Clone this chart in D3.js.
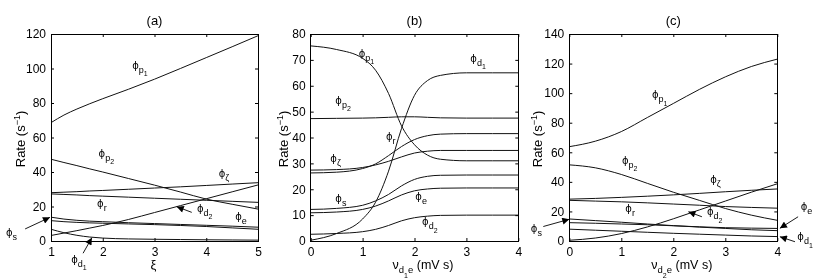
<!DOCTYPE html>
<html>
<head>
<meta charset="utf-8">
<script src="https://cdn.jsdelivr.net/npm/d3@7"></script>
<style>
body { margin: 0; background: #fff; }
svg { filter: grayscale(100%); }
svg text { font-family: "Liberation Sans", Arial, Helvetica, sans-serif; fill: #000; }
</style>
</head>
<body>
<script>
// ---- panel (a): rates vs xi ----
var xiA = [1, 1.25, 1.5, 1.75, 2, 2.5, 3, 3.5, 4, 4.5, 5];
var phiP1A = [68.6, 73, 76.5, 79.6, 82.5, 88, 93.8, 100, 106.3, 112.6, 119];
var phiP2A = [47.4, 45.5, 43.7, 41.8, 40, 36.2, 32.4, 28.4, 24.3, 21.3, 18.5];
var phiZA  = [28, 28.3, 28.6, 29, 29.3, 30, 30.7, 31.4, 32.2, 33, 33.8];
var phiRA  = [27.3, 27, 26.7, 26.3, 26, 25.4, 24.8, 24.2, 23.6, 23, 22.4];
var phiD2A = [3.2, 4.6, 6, 7.5, 9, 12.5, 16.5, 20.5, 24.5, 28.5, 32.5];
var phiSA  = [13.8, 12.7, 12, 11.5, 11.2, 10.6, 10.1, 9.6, 9.1, 8.6, 8];
var phiEA  = [11.8, 11.2, 10.8, 10.5, 10.3, 9.9, 9.5, 9, 8.4, 7.6, 6.8];
var phiD1A = [6.8, 4.8, 3.3, 2.3, 1.7, 1.2, 1, 0.85, 0.7, 0.6, 0.5];

// ---- panel (b): rates vs nu_d1e ----
var nuB = [0, 0.5, 1, 1.25, 1.5, 1.75, 2, 2.25, 2.5, 3, 3.5, 4];
var phiP1B = [75.4, 74, 70.6, 66, 57, 44.5, 37.2, 33.2, 31.6, 31, 31, 31];
var phiD1B = [0.3, 2.9, 8.5, 15, 27, 43.5, 56.3, 62, 64, 65, 65, 65];
var phiP2B = [47.3, 47.4, 47.5, 47.6, 47.8, 48, 48, 47.8, 47.6, 47.5, 47.5, 47.5];
var phiRB  = [26.3, 26.6, 28, 29.8, 33, 36.5, 39.2, 40.7, 41.3, 41.5, 41.5, 41.5];
var phiZB  = [27.4, 27.6, 28.4, 29.4, 30.8, 32.5, 34, 34.7, 35, 35, 35, 35];
var phiSB  = [12.2, 12.6, 13.8, 15.5, 18, 21.3, 23.8, 25, 25.4, 25.5, 25.5, 25.5];
var phiEB  = [10.9, 11.2, 12.2, 13.5, 15.5, 17.8, 19.4, 20.1, 20.4, 20.5, 20.5, 20.5];
var phiD2B = [2.6, 2.9, 3.6, 4.5, 6, 7.8, 9, 9.6, 9.9, 10, 10, 10];

// ---- panel (c): rates vs nu_d2e ----
var nuC = [0, 0.5, 1, 1.5, 2, 2.5, 3, 3.5, 4];
var phiP1C = [63.8, 67.5, 74, 83.5, 93, 102.5, 111, 118, 123];
var phiP2C = [51.5, 49.5, 45, 39, 33, 27.5, 22, 17.5, 14];
var phiZC  = [28.3, 28.8, 29.5, 30.3, 31.2, 32.2, 33.3, 34.3, 35.2];
var phiRC  = [27.5, 27, 26.5, 25.8, 25, 24.2, 23.3, 22.7, 22.2];
var phiD2C = [0.5, 2, 5, 9.5, 15, 21, 27, 33, 38.7];
var phiSC  = [14.9, 13.8, 12.7, 11.5, 10.4, 9.4, 8.5, 7.6, 7];
var phiEC  = [12.4, 12, 11.5, 11, 10.3, 9.6, 9, 8.7, 8.5];
var phiD1C = [8, 7.3, 6.6, 5.9, 5.2, 4.6, 4, 3.4, 3];

// tick labels
var xTicksA = [1, 2, 3, 4, 5];
var xTicksBC = [0, 1, 2, 3, 4];
var yTicksA = [0, 20, 40, 60, 80, 100, 120];
var yTicksB = [0, 10, 20, 30, 40, 50, 60, 70, 80];
var yTicksC = [0, 20, 40, 60, 80, 100, 120, 140];

// curve labels: [sub, subsub, x, y] in data units
var labelsA = [['p', '1', 2.57, 100], ['p', '2', 1.92, 48.8], ['ζ', '', 4.24, 37.2], ['r', '', 1.89, 19.8],
               ['d', '2', 3.82, 17.1], ['e', '', 4.56, 12.1], ['s', '', 0.13, 2.9], ['d', '1', 1.39, -12.6]];
var labelsB = [['p', '1', 0.925, 71.2], ['d', '1', 3.075, 69.2], ['p', '2', 0.474, 53.1], ['r', '', 1.451, 38.9],
               ['ζ', '', 0.378, 30.5], ['s', '', 0.474, 15.1], ['e', '', 2.015, 15.7], ['d', '2', 2.145, 6.0]];
var labelsC = [['p', '1', 1.59, 96.4], ['p', '2', 1.013, 52.4], ['ζ', '', 2.71, 38.9], ['r', '', 1.077, 19.7],
               ['d', '2', 2.648, 17.4], ['e', '', 4.45, 20.8], ['d', '1', 4.385, 0.5], ['s', '', -0.74, 6.4]];

// arrows: [x0, y0, x1, y1] tail -> head, data units
var arrowsA = [[0.5, 7, 0.98, 13.7], [1.62, -7.1, 1.79, 1.9], [3.72, 16.6, 3.43, 19.9]];
var arrowsC = [[-0.5, 9.8, 0, 14.7], [2.55, 16.4, 2.29, 19.8], [4.4, 16.4, 4.05, 8.6], [4.34, -0.5, 4.05, 2.9]];

var svg = d3.select('body').append('svg').attr('width', 824).attr('height', 279);

var defs = svg.append('defs');
defs.append('marker').attr('id', 'head')
    .attr('viewBox', '0 0 10 10').attr('refX', 10).attr('refY', 5)
    .attr('markerWidth', 8).attr('markerHeight', 7).attr('markerUnits', 'userSpaceOnUse')
    .attr('orient', 'auto')
    .append('path').attr('d', 'M0,0L10,5L0,10z').attr('fill', '#000');

function phiLabel(g, x, y, sub, subsub) {
    var t = g.append('text').attr('x', x).attr('y', y).style('font-size', '11px');
    t.append('tspan').style('font-family', '"DejaVu Sans", sans-serif').style('font-size', '10px').text('ϕ');
    t.append('tspan').attr('dy', 4).style('font-size', '9px').text(sub);
    if (subsub) t.append('tspan').attr('dy', 3.5).style('font-size', '7px').text(subsub);
}

function drawPanel(p) {
    var x = d3.scaleLinear().domain(p.xDomain).range([p.left, p.right]);
    var y = d3.scaleLinear().domain(p.yDomain).range([241, 34]);
    var g = svg.append('g');
    var fmt = d3.format('d');

    // curves
    var line = d3.line().x(function(d) { return x(d[0]); }).y(function(d) { return y(d[1]); }).curve(d3.curveMonotoneX);
    p.series.forEach(function(vals) {
        g.append('path').datum(p.xs.map(function(v, i) { return [v, vals[i]]; }))
            .attr('d', line).attr('fill', 'none').attr('stroke', '#111').attr('stroke-width', 1);
    });

    // axes (box with inward ticks on all sides)
    var ax = [
        d3.axisBottom(x).tickValues(p.xTicks).tickSizeInner(-3).tickSizeOuter(0).tickPadding(6).tickFormat(fmt),
        d3.axisTop(x).tickValues(p.xTicks).tickSizeInner(-3).tickSizeOuter(0).tickFormat(''),
        d3.axisLeft(y).tickValues(p.yTicks).tickSizeInner(-3).tickSizeOuter(0).tickPadding(5).tickFormat(fmt),
        d3.axisRight(y).tickValues(p.yTicks).tickSizeInner(-3).tickSizeOuter(0).tickFormat('')
    ];
    var tr = ['translate(0,241)', 'translate(0,34)', 'translate(' + p.left + ',0)', 'translate(' + p.right + ',0)'];
    ax.forEach(function(a, i) {
        var ga = g.append('g').attr('transform', tr[i]).call(a);
        ga.select('.domain').remove();
        ga.selectAll('line').attr('stroke', '#000');
        ga.selectAll('text').style('font-size', '12px').style('font-family', '"Liberation Sans", Arial, sans-serif');
    });
    g.append('rect').attr('x', p.left).attr('y', 34).attr('width', p.right - p.left).attr('height', 207)
        .attr('fill', 'none').attr('stroke', '#000').attr('stroke-width', 1).attr('shape-rendering', 'crispEdges');

    // title
    g.append('text').attr('x', (p.left + p.right) / 2).attr('y', 25).attr('text-anchor', 'middle')
        .style('font-size', '13px').text(p.title);

    // y label
    var yl = g.append('text').attr('transform', 'translate(' + (p.left - p.yLabelGap) + ',139) rotate(-90)')
        .attr('text-anchor', 'middle').style('font-size', '13px');
    yl.append('tspan').text('Rate (s');
    yl.append('tspan').attr('dy', -5).style('font-size', '9px').text('−1');
    yl.append('tspan').attr('dy', 5).text(')');

    // x label
    var mid = (p.left + p.right) / 2;
    if (p.nuSub) {
        var xl = g.append('text').attr('x', mid - 22).attr('y', 268.5).style('font-size', '12.5px');
        xl.append('tspan').text('ν');
        xl.append('tspan').attr('dy', 4).style('font-size', '9.5px').text('d');
        xl.append('tspan').attr('dy', 5).style('font-size', '7px').text(p.nuSub);
        xl.append('tspan').attr('dy', -5).style('font-size', '9.5px').text('e');
        xl.append('tspan').attr('dy', -4).text(' (mV s)');
    } else {
        g.append('text').attr('x', mid - 1).attr('y', 269).attr('text-anchor', 'middle')
            .style('font-size', '13px').text('ξ');
    }

    // curve labels
    p.labels.forEach(function(l) { phiLabel(g, x(l[2]), y(l[3]), l[0], l[1]); });

    // arrows
    p.arrows.forEach(function(a) {
        g.append('line').attr('x1', x(a[0])).attr('y1', y(a[1])).attr('x2', x(a[2])).attr('y2', y(a[3]))
            .attr('stroke', '#000').attr('stroke-width', 0.9).attr('marker-end', 'url(#head)');
    });
}

drawPanel({
    title: '(a)', left: 51, right: 258, xDomain: [1, 5], yDomain: [0, 120], xs: xiA,
    series: [phiP1A, phiP2A, phiZA, phiRA, phiD2A, phiSA, phiEA, phiD1A],
    xTicks: xTicksA, yTicks: yTicksA, yLabelGap: 26, nuSub: null, labels: labelsA, arrows: arrowsA
});
drawPanel({
    title: '(b)', left: 310.7, right: 518.3, xDomain: [0, 4], yDomain: [0, 80], xs: nuB,
    series: [phiP1B, phiD1B, phiP2B, phiRB, phiZB, phiSB, phiEB, phiD2B],
    xTicks: xTicksBC, yTicks: yTicksB, yLabelGap: 22.5, nuSub: '1', labels: labelsB, arrows: []
});
drawPanel({
    title: '(c)', left: 569.3, right: 777.3, xDomain: [0, 4], yDomain: [0, 140], xs: nuC,
    series: [phiP1C, phiP2C, phiZC, phiRC, phiD2C, phiSC, phiEC, phiD1C],
    xTicks: xTicksBC, yTicks: yTicksC, yLabelGap: 27.5, nuSub: '2', labels: labelsC, arrows: arrowsC
});
</script>
</body>
</html>
